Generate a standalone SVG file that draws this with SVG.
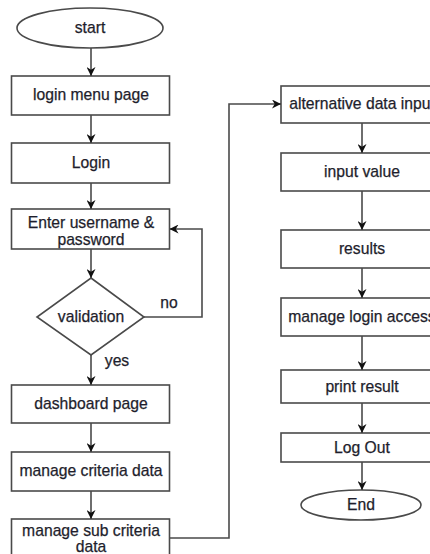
<svg xmlns="http://www.w3.org/2000/svg" width="430" height="554" viewBox="0 0 430 554">
  <defs>
    <marker id="arrow" viewBox="0 0 10 10" refX="10" refY="5" markerWidth="9" markerHeight="9" markerUnits="userSpaceOnUse" orient="auto">
      <path d="M0,0 L10,5 L0,10 L3,5 z" fill="#111"/>
    </marker>
    <style>
      .box { fill: #ffffff; stroke: #4a4a4a; stroke-width: 1.6; }
      .lbl { font-family: "Liberation Sans", Arial, sans-serif; font-size: 15.7px; fill: #1e1e2c; stroke: #1e1e2c; stroke-width: 0.25; text-anchor: middle; }
      .edge { fill: none; stroke: #4a4a4a; stroke-width: 1.6; }
      .arr { marker-end: url(#arrow); }
    </style>
  </defs>
  <rect width="430" height="554" fill="#ffffff"/>

  <!-- left column -->
  <g id="start">
    <ellipse class="box" cx="90" cy="28" rx="73" ry="20"/>
    <text class="lbl" x="90" y="33">start</text>
  </g>
  <g id="login-menu-page">
    <rect class="box" x="11.5" y="76" width="158" height="39"/>
    <text class="lbl" x="91" y="100">login menu page</text>
  </g>
  <g id="login">
    <rect class="box" x="11.5" y="143" width="158" height="40"/>
    <text class="lbl" x="91" y="168">Login</text>
  </g>
  <g id="enter-credentials">
    <rect class="box" x="11.5" y="209" width="158" height="40"/>
    <text class="lbl" x="91" y="228">Enter username &amp;</text>
    <text class="lbl" x="91" y="245">password</text>
  </g>
  <g id="validation">
    <polygon class="box" points="91,278 144,317 91,355 37,317"/>
    <text class="lbl" x="91" y="322">validation</text>
  </g>
  <g id="dashboard-page">
    <rect class="box" x="11.5" y="385" width="158" height="38"/>
    <text class="lbl" x="91" y="409">dashboard page</text>
  </g>
  <g id="manage-criteria-data">
    <rect class="box" x="11.5" y="452" width="158" height="39"/>
    <text class="lbl" x="91" y="476">manage criteria data</text>
  </g>
  <g id="manage-sub-criteria-data">
    <rect class="box" x="11.5" y="519" width="158" height="42"/>
    <text class="lbl" x="91" y="536">manage sub criteria</text>
    <text class="lbl" x="91" y="552">data</text>
  </g>

  <!-- right column -->
  <g id="alternative-data-input">
    <rect class="box" x="281" y="86" width="162" height="37"/>
    <text class="lbl" x="362" y="109">alternative data input</text>
  </g>
  <g id="input-value">
    <rect class="box" x="281" y="153" width="162" height="38"/>
    <text class="lbl" x="362" y="177">input value</text>
  </g>
  <g id="results">
    <rect class="box" x="281" y="230" width="162" height="38"/>
    <text class="lbl" x="362" y="254">results</text>
  </g>
  <g id="manage-login-access">
    <rect class="box" x="281" y="298" width="162" height="38"/>
    <text class="lbl" x="362" y="322">manage login access</text>
  </g>
  <g id="print-result">
    <rect class="box" x="281" y="370" width="162" height="33"/>
    <text class="lbl" x="362" y="392">print result</text>
  </g>
  <g id="log-out">
    <rect class="box" x="281" y="433" width="162" height="29"/>
    <text class="lbl" x="362" y="453">Log Out</text>
  </g>
  <g id="end">
    <ellipse class="box" cx="361" cy="505" rx="60" ry="15"/>
    <text class="lbl" x="361" y="510">End</text>
  </g>

  <!-- connectors -->
  <g id="connectors">
    <line class="edge arr" x1="91" y1="48" x2="91" y2="76"/>
    <line class="edge arr" x1="91" y1="115" x2="91" y2="143"/>
    <line class="edge arr" x1="91" y1="183" x2="91" y2="209"/>
    <line class="edge arr" x1="91" y1="249" x2="91" y2="278"/>
    <polyline class="edge arr" points="144,317 202,317 202,229 169.5,229"/>
    <text class="lbl" x="169" y="308">no</text>
    <line class="edge arr" x1="91" y1="355" x2="91" y2="385"/>
    <text class="lbl" x="117" y="366">yes</text>
    <line class="edge arr" x1="91" y1="423" x2="91" y2="452"/>
    <line class="edge arr" x1="91" y1="491" x2="91" y2="519"/>
    <polyline class="edge arr" points="169.5,538 229,538 229,104 281,104"/>
    <line class="edge arr" x1="362" y1="123" x2="362" y2="153"/>
    <line class="edge arr" x1="362" y1="191" x2="362" y2="230"/>
    <line class="edge arr" x1="362" y1="268" x2="362" y2="298"/>
    <line class="edge arr" x1="362" y1="336" x2="362" y2="370"/>
    <line class="edge arr" x1="362" y1="403" x2="362" y2="433"/>
    <line class="edge arr" x1="362" y1="462" x2="362" y2="490"/>
  </g>
</svg>
